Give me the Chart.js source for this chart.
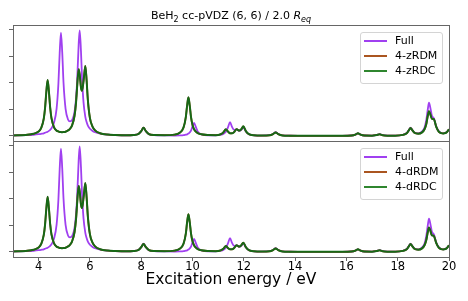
<!DOCTYPE html>
<html>
<head>
<meta charset="utf-8">
<script src="https://cdn.jsdelivr.net/npm/chart.js@4.4.1/dist/chart.umd.min.js"></script>
<style>
    body { margin: 0; background: #fff; }
    #wrap { position: relative; width: 468px; height: 301px; font-family: 'DejaVu Sans', sans-serif; color: #000; }
    #title { position: absolute; left: 13px; width: 436px; top: 9px; text-align: center; font-size: 11px; line-height: 13px; white-space: nowrap; }
    #title .sub { font-size: 8px; position: relative; top: 2.5px; }
    .legend { position: absolute; width: 81px; height: 50px; border: 1px solid #d4d4d4; border-radius: 3px; background: rgba(255, 255, 255, 0.8); }
    .legend .row { position: absolute; left: 0; height: 14px; line-height: 14px; font-size: 11px; white-space: nowrap; }
    .legend .swatch { position: absolute; left: 3px; top: 6px; width: 23px; height: 2px; }
    .legend .label { position: absolute; left: 34px; top: 0; }
</style>
</head>
<body>
<div id="wrap">
    <canvas id="chart" width="468" height="301"></canvas>
    <div id="title">BeH<span class="sub">2</span> cc-pVDZ (6, 6) / 2.0 <i>R</i><span class="sub"><i>eq</i></span></div>
</div>
<script>
// excitation energies (eV), shared by every series
const energies = [
    3.0, 3.5, 3.8, 4.0, 4.1, 4.2, 4.25, 4.3, 4.35, 4.4, 4.45, 4.5, 4.6, 4.7, 4.77, 4.82, 4.87, 4.92, 4.97, 5.05,
    5.15, 5.22, 5.3, 5.4, 5.46, 5.5, 5.56, 5.6, 5.65, 5.69, 5.75, 5.82, 5.87, 5.92, 6.0, 6.1, 6.2, 6.4, 6.7, 7.0,
    7.4, 7.7, 7.9, 8.0, 8.09, 8.18, 8.3, 8.5, 8.9, 9.3, 9.5, 9.65, 9.74, 9.79, 9.84, 9.89, 9.94, 10.0, 10.06, 10.12,
    10.2, 10.35, 10.6, 10.9, 11.1, 11.2, 11.3, 11.38, 11.46, 11.54, 11.62, 11.72, 11.82, 11.9, 11.98, 12.08, 12.2, 12.4, 12.7, 13.0,
    13.14, 13.24, 13.34, 13.5, 13.8, 14.2, 15.0, 15.8, 16.2, 16.35, 16.45, 16.55, 16.7, 17.0, 17.18, 17.3, 17.42, 17.6, 17.9, 18.2,
    18.35, 18.44, 18.5, 18.56, 18.65, 18.8, 18.95, 19.05, 19.12, 19.17, 19.22, 19.27, 19.33, 19.41, 19.5, 19.6, 19.7, 19.78, 19.86, 19.93,
    20.0
];

const fullSpectrum = [
    0.02, 0.03, 0.045, 0.065, 0.08, 0.10, 0.12, 0.14, 0.16, 0.19, 0.23, 0.29, 0.50, 1.03, 1.96, 3.11, 3.88, 3.13, 2.00, 1.02,
    0.61, 0.55, 0.59, 0.91, 1.43, 2.04, 3.44, 3.97, 3.19, 2.22, 1.26, 0.72, 0.52, 0.39, 0.27, 0.19, 0.14, 0.085, 0.05, 0.035,
    0.027, 0.035, 0.08, 0.18, 0.31, 0.18, 0.065, 0.03, 0.02, 0.015, 0.02, 0.03, 0.05, 0.06, 0.09, 0.13, 0.20, 0.36, 0.49, 0.36,
    0.17, 0.055, 0.025, 0.025, 0.05, 0.075, 0.16, 0.32, 0.52, 0.34, 0.23, 0.25, 0.19, 0.23, 0.32, 0.165, 0.065, 0.025, 0.015, 0.03,
    0.075, 0.14, 0.075, 0.025, 0.008, 0.005, 0.003, 0.005, 0.016, 0.05, 0.10, 0.05, 0.016, 0.012, 0.04, 0.065, 0.03, 0.012, 0.012, 0.045,
    0.11, 0.23, 0.31, 0.24, 0.13, 0.10, 0.17, 0.33, 0.63, 0.98, 1.25, 1.07, 0.77, 0.66, 0.36, 0.18, 0.11, 0.10, 0.115, 0.16,
    0.24
];

const zRdmSpectrum = [
    0.02, 0.04, 0.08, 0.17, 0.30, 0.65, 1.05, 1.66, 2.10, 1.67, 1.06, 0.67, 0.32, 0.20, 0.17, 0.15, 0.145, 0.14, 0.145, 0.16,
    0.21, 0.27, 0.39, 0.76, 1.28, 1.84, 2.51, 2.31, 1.83, 1.70, 2.06, 2.63, 2.09, 1.34, 0.67, 0.35, 0.21, 0.10, 0.05, 0.035,
    0.025, 0.035, 0.08, 0.18, 0.31, 0.18, 0.07, 0.035, 0.03, 0.05, 0.12, 0.32, 0.72, 1.15, 1.45, 1.15, 0.72, 0.41, 0.25, 0.17,
    0.11, 0.06, 0.035, 0.03, 0.065, 0.13, 0.25, 0.17, 0.10, 0.10, 0.145, 0.255, 0.20, 0.25, 0.36, 0.18, 0.065, 0.025, 0.015, 0.025,
    0.07, 0.13, 0.07, 0.02, 0.008, 0.005, 0.003, 0.005, 0.016, 0.05, 0.10, 0.05, 0.016, 0.012, 0.037, 0.06, 0.022, 0.012, 0.012, 0.04,
    0.10, 0.22, 0.30, 0.23, 0.12, 0.085, 0.135, 0.26, 0.47, 0.74, 0.93, 0.82, 0.65, 0.63, 0.35, 0.16, 0.105, 0.095, 0.11, 0.16,
    0.25
];

const zRdcSpectrum = [
    0.02, 0.04, 0.08, 0.17, 0.30, 0.65, 1.05, 1.66, 2.10, 1.67, 1.06, 0.67, 0.32, 0.20, 0.17, 0.15, 0.145, 0.14, 0.145, 0.16,
    0.21, 0.27, 0.39, 0.76, 1.28, 1.84, 2.51, 2.31, 1.83, 1.70, 2.06, 2.63, 2.09, 1.34, 0.67, 0.35, 0.21, 0.10, 0.05, 0.035,
    0.025, 0.035, 0.08, 0.18, 0.31, 0.18, 0.07, 0.035, 0.03, 0.05, 0.12, 0.32, 0.72, 1.15, 1.45, 1.15, 0.72, 0.41, 0.25, 0.17,
    0.11, 0.06, 0.035, 0.03, 0.065, 0.13, 0.25, 0.17, 0.10, 0.10, 0.145, 0.255, 0.20, 0.25, 0.36, 0.18, 0.065, 0.025, 0.015, 0.025,
    0.07, 0.13, 0.07, 0.02, 0.008, 0.005, 0.003, 0.005, 0.016, 0.05, 0.10, 0.05, 0.016, 0.012, 0.037, 0.06, 0.022, 0.012, 0.012, 0.04,
    0.10, 0.22, 0.30, 0.23, 0.12, 0.085, 0.135, 0.26, 0.47, 0.74, 0.93, 0.82, 0.65, 0.63, 0.35, 0.16, 0.105, 0.095, 0.11, 0.16,
    0.25
];

const dRdmSpectrum = [
    0.02, 0.04, 0.08, 0.17, 0.30, 0.64, 1.03, 1.63, 2.07, 1.64, 1.04, 0.66, 0.32, 0.20, 0.17, 0.15, 0.145, 0.14, 0.145, 0.16,
    0.21, 0.27, 0.39, 0.75, 1.26, 1.82, 2.48, 2.28, 1.79, 1.65, 2.03, 2.59, 2.06, 1.32, 0.66, 0.35, 0.21, 0.10, 0.05, 0.035,
    0.025, 0.035, 0.08, 0.18, 0.30, 0.18, 0.07, 0.035, 0.03, 0.05, 0.12, 0.31, 0.70, 1.13, 1.42, 1.13, 0.70, 0.40, 0.25, 0.17,
    0.11, 0.06, 0.035, 0.03, 0.06, 0.12, 0.22, 0.15, 0.10, 0.10, 0.145, 0.25, 0.20, 0.25, 0.35, 0.18, 0.065, 0.025, 0.015, 0.025,
    0.07, 0.13, 0.07, 0.02, 0.008, 0.005, 0.003, 0.005, 0.016, 0.05, 0.10, 0.05, 0.016, 0.012, 0.037, 0.06, 0.022, 0.012, 0.012, 0.04,
    0.10, 0.22, 0.30, 0.23, 0.12, 0.085, 0.135, 0.26, 0.47, 0.73, 0.92, 0.81, 0.63, 0.60, 0.34, 0.16, 0.105, 0.095, 0.11, 0.16,
    0.25
];

const dRdcSpectrum = [
    0.02, 0.04, 0.08, 0.17, 0.30, 0.64, 1.03, 1.63, 2.07, 1.64, 1.04, 0.66, 0.32, 0.20, 0.17, 0.15, 0.145, 0.14, 0.145, 0.16,
    0.21, 0.27, 0.39, 0.75, 1.26, 1.82, 2.48, 2.28, 1.79, 1.65, 2.03, 2.59, 2.06, 1.32, 0.66, 0.35, 0.21, 0.10, 0.05, 0.035,
    0.025, 0.035, 0.08, 0.18, 0.30, 0.18, 0.07, 0.035, 0.03, 0.05, 0.12, 0.31, 0.70, 1.13, 1.42, 1.13, 0.70, 0.40, 0.25, 0.17,
    0.11, 0.06, 0.035, 0.03, 0.06, 0.12, 0.22, 0.15, 0.10, 0.10, 0.145, 0.25, 0.20, 0.25, 0.35, 0.18, 0.065, 0.025, 0.015, 0.025,
    0.07, 0.13, 0.07, 0.02, 0.008, 0.005, 0.003, 0.005, 0.016, 0.05, 0.10, 0.05, 0.016, 0.012, 0.037, 0.06, 0.022, 0.012, 0.012, 0.04,
    0.10, 0.22, 0.30, 0.23, 0.12, 0.085, 0.135, 0.26, 0.47, 0.73, 0.92, 0.81, 0.63, 0.60, 0.34, 0.16, 0.105, 0.095, 0.11, 0.16,
    0.25
];

const topLabels = ['Full', '4-zRDM', '4-zRDC'];
const bottomLabels = ['Full', '4-dRDM', '4-dRDC'];
const xTickValues = [4, 6, 8, 10, 12, 14, 16, 18, 20];
const yTickValues = [0, 1, 2, 3, 4];

const colors = {
    full: '#a040f0',
    rdm: '#aa5520',
    rdc: '#176817'
};
const legendColors = ['#a040f0', '#aa5520', '#2f862f'];
const frameColor = '#666';

function toPoints(values) {
    return energies.map((e, i) => ({ x: e, y: values[i] }));
}

function makeDataset(label, values, color, axis, order, width) {
    return {
        label,
        data: toPoints(values),
        yAxisID: axis,
        borderColor: color,
        borderWidth: width,
        pointRadius: 0,
        cubicInterpolationMode: 'monotone',
        order
    };
}

function panelAxis() {
    return {
        type: 'linear',
        position: 'left',
        stack: 'panels',
        stackWeight: 1,
        min: -0.19,
        max: 4.17,
        afterBuildTicks: (scale) => { scale.ticks = yTickValues.map(v => ({ value: v })); },
        ticks: { display: false },
        grid: { drawOnChartArea: false, drawTicks: true, tickLength: 4, color: frameColor },
        border: { display: false }
    };
}

// box around each panel, drawn over the lines like matplotlib spines
const panelFrames = {
    id: 'panelFrames',
    afterDatasetsDraw(chart) {
        const { ctx, chartArea } = chart;
        ctx.save();
        ctx.strokeStyle = frameColor;
        ctx.lineWidth = 1;
        ['yTop', 'yBottom'].forEach(id => {
            const s = chart.scales[id];
            ctx.strokeRect(Math.round(chartArea.left) + 0.5, Math.round(s.top) + 0.5,
                Math.round(chartArea.right - chartArea.left), Math.round(s.bottom - s.top));
        });
        ctx.restore();
    }
};

Chart.defaults.font.family = "'DejaVu Sans', sans-serif";
Chart.defaults.color = '#000';

const chart = new Chart(document.getElementById('chart'), {
    type: 'line',
    data: {
        datasets: [
            makeDataset(topLabels[0], fullSpectrum, colors.full, 'yTop', 3, 1.8),
            makeDataset(topLabels[1], zRdmSpectrum, colors.rdm, 'yTop', 2, 1.8),
            makeDataset(topLabels[2], zRdcSpectrum, colors.rdc, 'yTop', 1, 2),
            makeDataset(bottomLabels[0], fullSpectrum, colors.full, 'yBottom', 3, 1.8),
            makeDataset(bottomLabels[1], dRdmSpectrum, colors.rdm, 'yBottom', 2, 1.8),
            makeDataset(bottomLabels[2], dRdcSpectrum, colors.rdc, 'yBottom', 1, 2)
        ]
    },
    options: {
        responsive: false,
        animation: false,
        devicePixelRatio: 1,
        layout: { padding: { left: 9, right: 19, top: 25, bottom: 13 } },
        plugins: { legend: { display: false }, tooltip: { enabled: false } },
        scales: {
            x: {
                type: 'linear',
                position: 'bottom',
                min: 3,
                max: 20,
                afterBuildTicks: (scale) => { scale.ticks = xTickValues.map(v => ({ value: v })); },
                ticks: { padding: 0, font: { size: 11.5, lineHeight: 1 }, callback: (v) => String(v) },
                grid: { drawOnChartArea: false, drawTicks: true, tickLength: 4, color: frameColor },
                border: { display: false },
                title: {
                    display: true,
                    text: 'Excitation energy / eV',
                    font: { size: 15.5, lineHeight: 1 },
                    padding: { top: 0, bottom: 0 }
                }
            },
            // stacked left axes are laid out last-declared on top
            yBottom: panelAxis(),
            yTop: panelAxis()
        }
    },
    plugins: [panelFrames]
});

// legends sit inside the upper right corner of each panel
function addLegend(scaleId, labels) {
    const scale = chart.scales[scaleId];
    const box = document.createElement('div');
    box.className = 'legend';
    box.style.left = (chart.chartArea.right - 6 - 83) + 'px';
    box.style.top = (scale.top + 6.5) + 'px';
    box.innerHTML = labels.map((label, i) => `
        <div class="row" style="top:${1 + i * 15.3}px">
            <span class="swatch" style="background:${legendColors[i]}"></span>
            <span class="label">${label}</span>
        </div>`).join('');
    document.getElementById('wrap').appendChild(box);
}

addLegend('yTop', topLabels);
addLegend('yBottom', bottomLabels);
</script>
</body>
</html>
